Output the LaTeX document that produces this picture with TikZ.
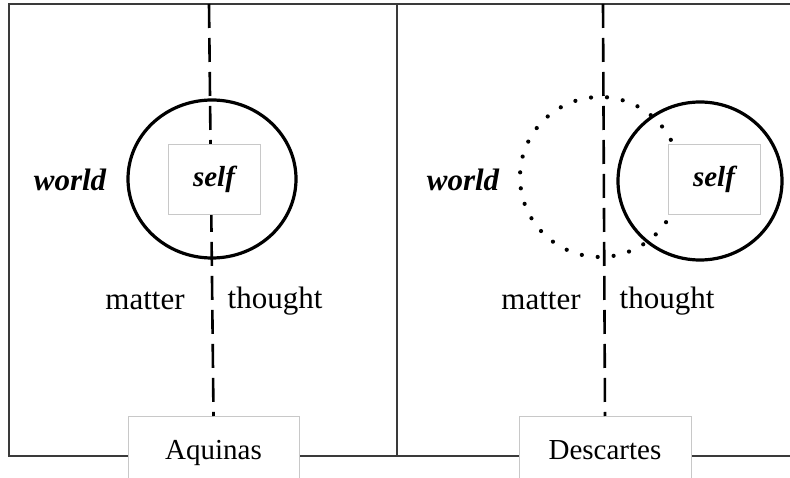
\documentclass[tikz,border=0pt]{standalone}
\usepackage{fontspec}
\setmainfont{Liberation Serif}
\usepackage{tikz}
\usetikzlibrary{positioning,calc}
\definecolor{frame}{HTML}{3A3A3A}
\definecolor{boxedge}{HTML}{C8C8C8}
\tikzset{
  panelline/.style={draw=frame, line width=1.4pt},
  divider/.style={draw=black, line width=2.6pt, dash pattern=on 24pt off 10pt},
  selfring/.style={draw=black, line width=3.2pt},
  ghostring/.style={draw=black, line width=4.2pt, line cap=round,
    dash pattern=on 0pt off 16pt},
  selfbox/.style={rectangle, draw=boxedge, fill=white, line width=0.6pt,
    minimum width=92pt, minimum height=70pt, inner sep=0pt,
    font=\fontsize{29}{31}\selectfont\bfseries\itshape},
  namebox/.style={rectangle, draw=boxedge, fill=white, line width=0.6pt,
    minimum height=74pt, inner sep=0pt, anchor=north,
    text height=20pt, text depth=7pt,
    font=\fontsize{29}{31}\selectfont},
  sidelabel/.style={font=\fontsize{31}{33}\selectfont\bfseries\itshape},
  splitlabel/.style={font=\fontsize{31}{33}\selectfont},
}

\begin{document}
\begin{tikzpicture}[x=1pt, y=-1pt]
  \useasboundingbox (0,0) rectangle (790,478);
  % Frame
  \coordinate (tl) at (9,4);
  \coordinate (tr) at (792,4);
  \coordinate (bl) at (9,456);
  \coordinate (br) at (792,456);
  \coordinate (mt) at (397,4);
  \coordinate (mb) at (397,456);
  \draw[panelline] (tr) -- (tl) -- (bl) -- (br);
  \draw[panelline] (mt) -- (mb);

  % Aquinas panel
  \coordinate (atop) at (209,4);
  \node[namebox, minimum width=171pt] (aquinas) at (213.5,416) {Aquinas};
  \draw[divider] (atop) -- (aquinas.north);
  \draw[selfring] (212,179) ellipse [x radius=84, y radius=79];
  \node[selfbox] (aself) at (214,179) {self};
  \node[sidelabel] (aworld) at (70,180) {world};
  \node[splitlabel] (amatter) at (145,301) {matter};
  \node[splitlabel] (athought) at (275,301) {thought};

  % Descartes panel
  \coordinate (dtop) at (603,4);
  \node[namebox, minimum width=172pt] (descartes) at (605,416) {Descartes};
  \draw[divider] (dtop) -- (descartes.north);
  \draw[ghostring] (600,177) ellipse [x radius=80, y radius=80];
  \draw[selfring] (700,181) ellipse [x radius=82, y radius=79];
  \node[selfbox] (dself) at (714,179) {self};
  \node[sidelabel] (dworld) at (463,180) {world};
  \node[splitlabel] (dmatter) at (541,301) {matter};
  \node[splitlabel] (dthought) at (667,301) {thought};
\end{tikzpicture}
\end{document}
